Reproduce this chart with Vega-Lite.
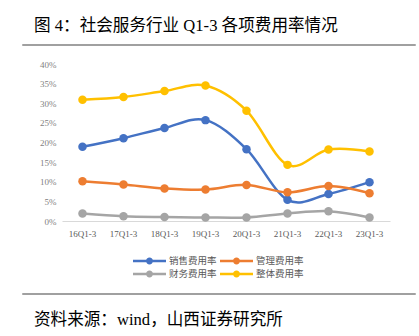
{
  "$schema": "https://vega.github.io/schema/vega-lite/v6.json",
  "background": "white",
  "padding": {"left": 22, "top": 16, "right": 0, "bottom": 0},
  "spacing": 11,
  "config": {"view": {"stroke": null}},
  "resolve": {"legend": {"color": "independent"}},
  "vconcat": [
    {
      "width": 392,
      "height": 0.01,
      "view": {"stroke": "#808080", "strokeWidth": 1.5},
      "data": {"values": [{"k": 1}]},
      "mark": {"type": "point", "opacity": 0},
      "title": {
        "text": "图 4：社会服务行业 Q1-3 各项费用率情况",
        "anchor": "start",
        "dx": 11,
        "offset": 8,
        "fontSize": 16.6,
        "fontWeight": "normal",
        "font": "Liberation Serif, Noto Sans CJK SC",
        "color": "#000000"
      }
    },
    {
      "width": 392,
      "height": 157,
      "data": {
        "values": [
          {"period": "16Q1-3", "series": "销售费用率", "value": 18.9},
          {"period": "17Q1-3", "series": "销售费用率", "value": 21.1},
          {"period": "18Q1-3", "series": "销售费用率", "value": 23.7},
          {"period": "19Q1-3", "series": "销售费用率", "value": 25.7},
          {"period": "20Q1-3", "series": "销售费用率", "value": 18.3},
          {"period": "21Q1-3", "series": "销售费用率", "value": 5.4},
          {"period": "22Q1-3", "series": "销售费用率", "value": 6.9},
          {"period": "23Q1-3", "series": "销售费用率", "value": 9.9},
          {"period": "16Q1-3", "series": "管理费用率", "value": 10.1},
          {"period": "17Q1-3", "series": "管理费用率", "value": 9.3},
          {"period": "18Q1-3", "series": "管理费用率", "value": 8.3},
          {"period": "19Q1-3", "series": "管理费用率", "value": 8.0},
          {"period": "20Q1-3", "series": "管理费用率", "value": 9.2},
          {"period": "21Q1-3", "series": "管理费用率", "value": 7.3},
          {"period": "22Q1-3", "series": "管理费用率", "value": 8.9},
          {"period": "23Q1-3", "series": "管理费用率", "value": 7.1},
          {"period": "16Q1-3", "series": "财务费用率", "value": 1.9},
          {"period": "17Q1-3", "series": "财务费用率", "value": 1.2},
          {"period": "18Q1-3", "series": "财务费用率", "value": 1.0},
          {"period": "19Q1-3", "series": "财务费用率", "value": 0.9},
          {"period": "20Q1-3", "series": "财务费用率", "value": 0.9},
          {"period": "21Q1-3", "series": "财务费用率", "value": 1.9},
          {"period": "22Q1-3", "series": "财务费用率", "value": 2.5},
          {"period": "23Q1-3", "series": "财务费用率", "value": 0.9},
          {"period": "16Q1-3", "series": "整体费用率", "value": 30.9},
          {"period": "17Q1-3", "series": "整体费用率", "value": 31.6},
          {"period": "18Q1-3", "series": "整体费用率", "value": 33.1},
          {"period": "19Q1-3", "series": "整体费用率", "value": 34.5},
          {"period": "20Q1-3", "series": "整体费用率", "value": 28.1},
          {"period": "21Q1-3", "series": "整体费用率", "value": 14.3},
          {"period": "22Q1-3", "series": "整体费用率", "value": 18.2},
          {"period": "23Q1-3", "series": "整体费用率", "value": 17.7}
        ]
      },
      "encoding": {
        "x": {
          "field": "period",
          "type": "ordinal",
          "sort": null,
          "scale": {"type": "band", "range": [39, 367], "paddingInner": 0, "paddingOuter": 0},
          "axis": {
            "title": null,
            "labelAngle": 0,
            "ticks": false,
            "domainColor": "#d9d9d9",
            "domainWidth": 1,
            "labelPadding": 8,
            "labelFont": "Liberation Serif",
            "labelFontSize": 9,
            "labelColor": "#595959",
            "grid": false
          }
        },
        "y": {
          "field": "value",
          "type": "quantitative",
          "scale": {"domain": [0, 40], "nice": false},
          "axis": {
            "title": null,
            "values": [0, 5, 10, 15, 20, 25, 30, 35, 40],
            "labelExpr": "datum.value + '%'",
            "offset": -39,
            "domain": false,
            "ticks": false,
            "grid": false,
            "labelPadding": 6,
            "labelFont": "Liberation Serif",
            "labelFontSize": 9,
            "labelColor": "#7f7f7f"
          }
        },
        "color": {
          "field": "series",
          "type": "nominal",
          "sort": ["销售费用率", "管理费用率", "财务费用率", "整体费用率"],
          "scale": {
            "domain": ["销售费用率", "管理费用率", "财务费用率", "整体费用率"],
            "range": ["#4472C4", "#ED7D31", "#A5A5A5", "#FFC000"]
          },
          "legend": {
            "orient": "none",
            "direction": "horizontal",
            "legendX": 110,
            "legendY": 192,
            "title": null,
            "columns": 2,
            "symbolType": "M-1,-0.07H1V0.07H-1Z M0.21,0A0.21,0.21,0,1,1,-0.21,0A0.21,0.21,0,1,1,0.21,0Z",
            "symbolSize": 1089,
            "symbolStrokeWidth": 0,
            "labelFont": "Noto Sans CJK SC",
            "labelFontSize": 9.5,
            "labelColor": "#595959",
            "labelOffset": 3,
            "columnPadding": 3,
            "rowPadding": 3,
            "clipHeight": 10,
            "padding": 0,
            "encode": {
              "symbols": {"update": {"fill": {"scale": "color", "field": "value"}, "opacity": {"value": 1}, "strokeWidth": {"value": 0}}}
            }
          }
        }
      },
      "layer": [
        {"mark": {"type": "line", "interpolate": "cardinal", "strokeWidth": 2.5}},
        {"mark": {"type": "point", "filled": true, "size": 72, "opacity": 1}}
      ]
    },
    {
      "width": 392,
      "height": 0.01,
      "view": {"stroke": "#808080", "strokeWidth": 1.5},
      "data": {"values": [{"k": 1}]},
      "mark": {"type": "point", "opacity": 0},
      "title": {
        "text": "资料来源：wind，山西证券研究所",
        "orient": "bottom",
        "anchor": "start",
        "dx": 11,
        "offset": 15,
        "fontSize": 16.6,
        "fontWeight": "normal",
        "font": "Liberation Serif, Noto Sans CJK SC",
        "color": "#000000"
      }
    }
  ]
}
